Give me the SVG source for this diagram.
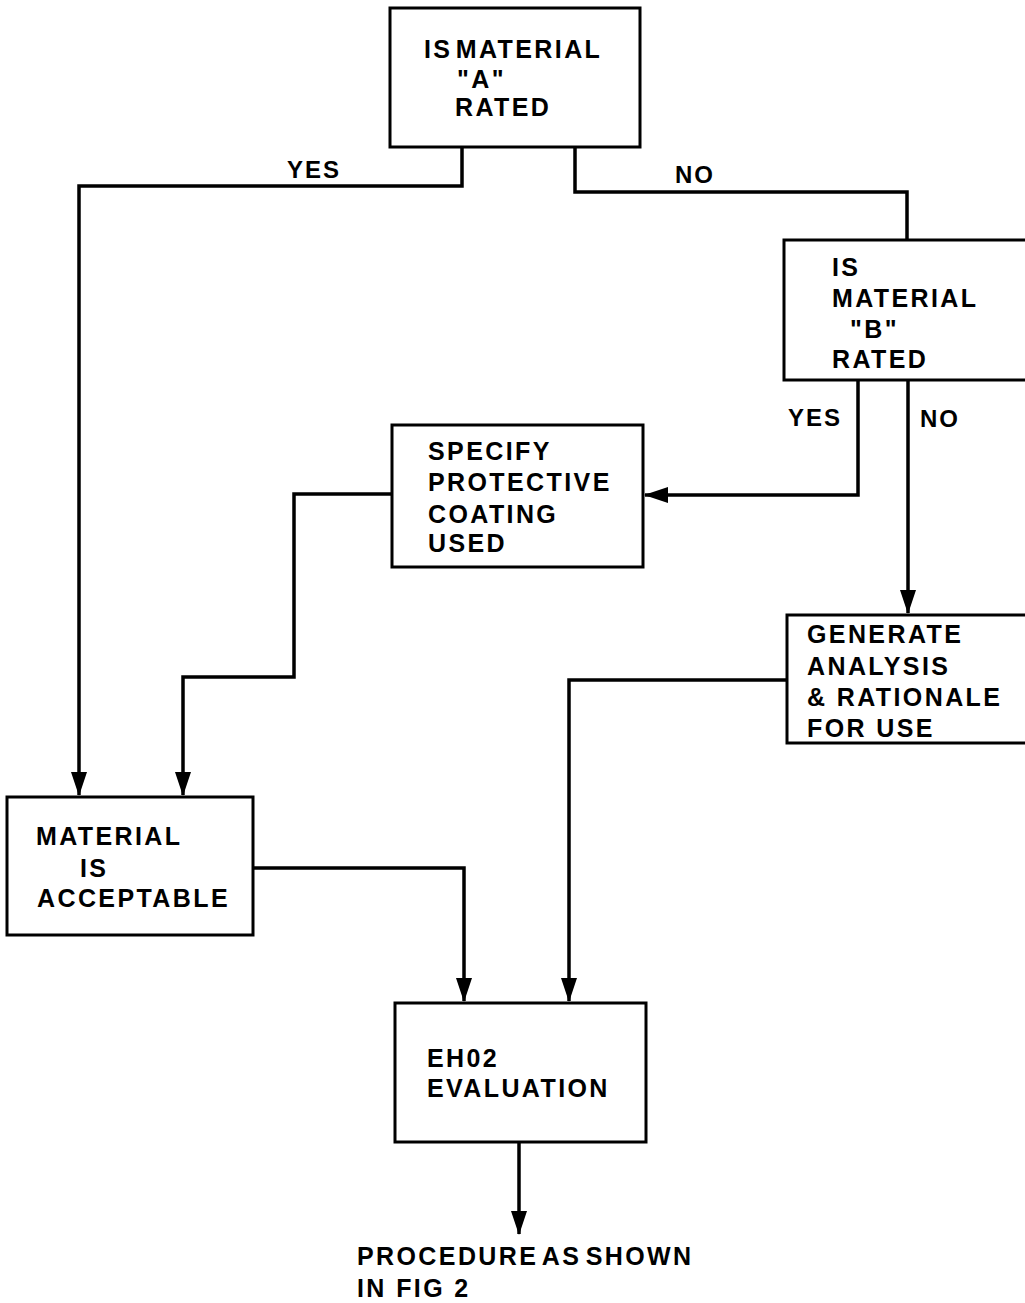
<svg xmlns="http://www.w3.org/2000/svg" width="1025" height="1303" viewBox="0 0 1025 1303">
<style>
  .box { fill: #fff; stroke: #000; stroke-width: 3; }
  .t { font-family: "Liberation Sans", Arial, sans-serif; font-size: 25px; font-weight: bold; letter-spacing: 2.4px; fill: #000; }
  .lbl { font-family: "Liberation Sans", Arial, sans-serif; font-size: 24px; font-weight: bold; letter-spacing: 2px; fill: #000; }
  .c { fill: none; stroke: #000; stroke-width: 3.5; }
</style>
<defs>
  <marker id="ah" viewBox="0 0 24 16" refX="23" refY="8" markerWidth="24" markerHeight="16" markerUnits="userSpaceOnUse" orient="auto">
    <path d="M0,0 L24,8 L0,16 Z" fill="#000"/>
  </marker>
</defs>
<rect width="1025" height="1303" fill="#fff"/>

<g id="connectors">
  <path class="c" d="M462,147 V186 H79 V795" marker-end="url(#ah)"/>
  <path class="c" d="M575,147 V192 H907 V240"/>
  <path class="c" d="M858,380 V495 H645" marker-end="url(#ah)"/>
  <path class="c" d="M908,380 V613" marker-end="url(#ah)"/>
  <path class="c" d="M392,494 H294 V677 H183 V795" marker-end="url(#ah)"/>
  <path class="c" d="M787,680 H569 V1001" marker-end="url(#ah)"/>
  <path class="c" d="M253,868 H464 V1001" marker-end="url(#ah)"/>
  <path class="c" d="M519,1142 V1234" marker-end="url(#ah)"/>
</g>

<g id="label-yes-a"><text class="lbl" x="287" y="178">YES</text></g>
<g id="label-no-a"><text class="lbl" x="675" y="183">NO</text></g>
<g id="label-yes-b"><text class="lbl" x="788" y="426">YES</text></g>
<g id="label-no-b"><text class="lbl" x="920" y="427">NO</text></g>

<g id="node-a">
  <rect class="box" x="390" y="8" width="250" height="139"/>
  <text class="t" x="424" y="58" word-spacing="-6">IS MATERIAL</text>
  <text class="t" x="457" y="88">"A"</text>
  <text class="t" x="455" y="116">RATED</text>
</g>

<g id="node-b">
  <rect class="box" x="784" y="240" width="250" height="140"/>
  <text class="t" x="832" y="276">IS</text>
  <text class="t" x="832" y="307">MATERIAL</text>
  <text class="t" x="850" y="338">"B"</text>
  <text class="t" x="832" y="368">RATED</text>
</g>

<g id="node-specify">
  <rect class="box" x="392" y="425" width="251" height="142"/>
  <text class="t" x="428" y="460">SPECIFY</text>
  <text class="t" x="428" y="491">PROTECTIVE</text>
  <text class="t" x="428" y="523">COATING</text>
  <text class="t" x="428" y="552">USED</text>
</g>

<g id="node-generate">
  <rect class="box" x="787" y="615" width="250" height="128"/>
  <text class="t" x="807" y="643">GENERATE</text>
  <text class="t" x="807" y="675">ANALYSIS</text>
  <text class="t" x="807" y="706">&amp; RATIONALE</text>
  <text class="t" x="807" y="737">FOR USE</text>
</g>

<g id="node-acceptable">
  <rect class="box" x="7" y="797" width="246" height="138"/>
  <text class="t" x="36" y="845">MATERIAL</text>
  <text class="t" x="80" y="877">IS</text>
  <text class="t" x="37" y="907">ACCEPTABLE</text>
</g>

<g id="node-eh02">
  <rect class="box" x="395" y="1003" width="251" height="139"/>
  <text class="t" x="427" y="1067">EH02</text>
  <text class="t" x="427" y="1097">EVALUATION</text>
</g>

<g id="node-procedure">
  <text class="t" x="357" y="1265" word-spacing="-5">PROCEDURE AS SHOWN</text>
  <text class="t" x="357" y="1297">IN FIG 2</text>
</g>
</svg>
